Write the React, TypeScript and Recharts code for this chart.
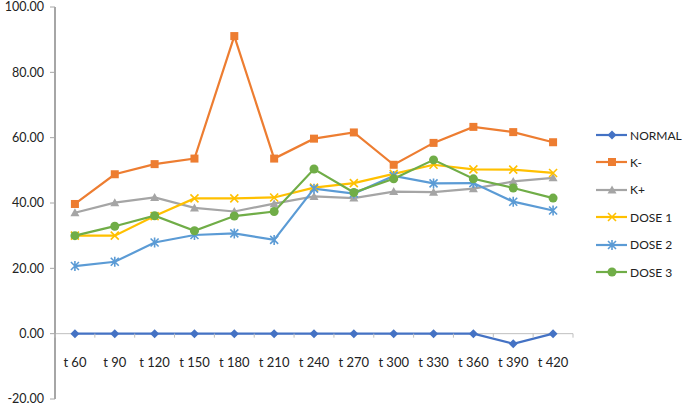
import React from "react";
import { LineChart, Line, XAxis, YAxis, ReferenceLine } from "recharts";

const categories = ["t 60", "t 90", "t 120", "t 150", "t 180", "t 210", "t 240", "t 270", "t 300", "t 330", "t 360", "t 390", "t 420"];
const normal = [0, 0, 0, 0, 0, 0, 0, 0, 0, 0, 0, -3.1, 0];
const kMinus = [39.7, 48.8, 51.9, 53.6, 91.1, 53.6, 59.7, 61.6, 51.7, 58.4, 63.3, 61.7, 58.6];
const kPlus = [37, 40.1, 41.7, 38.5, 37.4, 39.8, 42, 41.5, 43.5, 43.3, 44.4, 46.6, 47.7];
const dose1 = [30, 30, 36, 41.4, 41.4, 41.7, 44.7, 46.1, 48.9, 51.7, 50.3, 50.2, 49.2];
const dose2 = [20.7, 22, 27.9, 30.2, 30.7, 28.7, 44.4, 42.9, 48.3, 46, 46.1, 40.4, 37.7];
const dose3 = [30, 32.9, 36.1, 31.5, 36, 37.4, 50.4, 43.2, 47.4, 53.2, 47.4, 44.6, 41.5];
const yTicks = [-20, 0, 20, 40, 60, 80, 100];

const series = [
  { key: "NORMAL", name: "NORMAL", values: normal, color: "#4472C4", shape: "diamond" },
  { key: "KM", name: "K-", values: kMinus, color: "#ED7D31", shape: "square" },
  { key: "KP", name: "K+", values: kPlus, color: "#A5A5A5", shape: "triangle" },
  { key: "D1", name: "DOSE 1", values: dose1, color: "#FFC000", shape: "x" },
  { key: "D2", name: "DOSE 2", values: dose2, color: "#5B9BD5", shape: "star" },
  { key: "D3", name: "DOSE 3", values: dose3, color: "#70AD47", shape: "circle" },
];

const data = categories.map((c, i) => {
  const row: any = { cat: c };
  series.forEach((s) => (row[s.key] = s.values[i]));
  return row;
});

const W = 686;
const H = 405;
const M = { top: 7, right: 113, bottom: 0, left: 0 };
const Y_AXIS_W = 55;
const X_AXIS_H = 6;
const Y_MIN = -20;
const Y_MAX = 100;
const plotLeft = M.left + Y_AXIS_W;
const plotRight = W - M.right;
const plotTop = M.top;
const plotBottom = H - M.bottom - X_AXIS_H;
const band = (plotRight - plotLeft) / categories.length;
const zeroY = plotBottom - ((0 - Y_MIN) / (Y_MAX - Y_MIN)) * (plotBottom - plotTop);
const FONT = "Lato, 'Open Sans', sans-serif";
const AXIS_COLOR = "#BFBFBF";
const Y_AXIS_COLOR = "#A6A6A6";

function Marker({ shape, color, cx, cy }: { shape: string; color: string; cx: number; cy: number }) {
  if (cx == null || cy == null) return null;
  switch (shape) {
    case "diamond":
      return <path d={`M${cx},${cy - 4.5}L${cx + 4.5},${cy}L${cx},${cy + 4.5}L${cx - 4.5},${cy}Z`} fill={color} />;
    case "square":
      return <rect x={cx - 4} y={cy - 4} width={8} height={8} fill={color} />;
    case "triangle":
      return <path d={`M${cx},${cy - 4.5}L${cx + 4.5},${cy + 3.5}L${cx - 4.5},${cy + 3.5}Z`} fill={color} />;
    case "x":
      return (
        <path d={`M${cx - 4},${cy - 4}L${cx + 4},${cy + 4}M${cx + 4},${cy - 4}L${cx - 4},${cy + 4}`} stroke={color} strokeWidth={1.6} />
      );
    case "star":
      return (
        <path
          d={`M${cx - 4},${cy - 4}L${cx + 4},${cy + 4}M${cx + 4},${cy - 4}L${cx - 4},${cy + 4}M${cx},${cy - 5}L${cx},${cy + 5}`}
          stroke={color}
          strokeWidth={1.6}
        />
      );
    default:
      return <circle cx={cx} cy={cy} r={4.5} fill={color} />;
  }
}

const XTick = (props: any) => {
  const { x, payload, index } = props;
  const ty = zeroY;
  return (
    <g>
      <line x1={x - band / 2} x2={x - band / 2} y1={ty} y2={ty + 4} stroke={AXIS_COLOR} strokeWidth={1} />
      {index === categories.length - 1 && (
        <line x1={x + band / 2} x2={x + band / 2} y1={ty} y2={ty + 4} stroke={AXIS_COLOR} strokeWidth={1} />
      )}
      <text x={x} y={ty + 33} textAnchor="middle" fontFamily={FONT} fontSize={13} fill="#222">
        {payload.value}
      </text>
    </g>
  );
};

function LegendBox() {
  const rowY = [135, 162, 189.5, 217, 244.5, 272];
  return (
    <div style={{ position: "absolute", left: 0, top: 0, width: W, height: H, pointerEvents: "none" }}>
      {series.map((s, i) => (
        <div key={s.key} style={{ position: "absolute", left: 596, top: rowY[i] - 8, height: 16, display: "flex", alignItems: "center" }}>
          <svg width={32} height={16} style={{ display: "block" }}>
            <line x1={0} x2={31} y1={8} y2={8} stroke={s.color} strokeWidth={2.2} />
            <Marker shape={s.shape} color={s.color} cx={16} cy={8} />
          </svg>
          <span style={{ fontFamily: FONT, fontSize: 12, color: "#222", marginLeft: 2, whiteSpace: "nowrap" }}>{s.name}</span>
        </div>
      ))}
    </div>
  );
}

export default function App() {
  return (
    <div style={{ position: "absolute", left: 0, top: 0, width: W, height: H, background: "#fff" }}>
      <LineChart width={W} height={H} data={data} margin={M}>
        <ReferenceLine y={0} stroke={AXIS_COLOR} strokeWidth={1} />
        <XAxis
          dataKey="cat"
          height={X_AXIS_H}
          axisLine={false}
          tickLine={false}
          interval={0}
          padding={{ left: band / 2, right: band / 2 }}
          tick={<XTick />}
        />
        <YAxis
          width={Y_AXIS_W}
          domain={[Y_MIN, Y_MAX]}
          ticks={yTicks}
          interval={0}
          tickFormatter={(v: number) => v.toFixed(2)}
          axisLine={{ stroke: Y_AXIS_COLOR, strokeWidth: 2 }}
          tickLine={{ stroke: Y_AXIS_COLOR, strokeWidth: 1 }}
          tickSize={5}
          tickMargin={6}
          tick={{ fontFamily: FONT, fontSize: 12.5, fill: "#222" }}
        />
        {series.map((s) => (
          <Line
            key={s.key}
            dataKey={s.key}
            name={s.name}
            stroke={s.color}
            strokeWidth={2.2}
            isAnimationActive={false}
            dot={(p: any) => <Marker key={`${s.key}-${p.index}`} shape={s.shape} color={s.color} cx={p.cx} cy={p.cy} />}
            activeDot={false}
          />
        ))}
      </LineChart>
      <LegendBox />
    </div>
  );
}
